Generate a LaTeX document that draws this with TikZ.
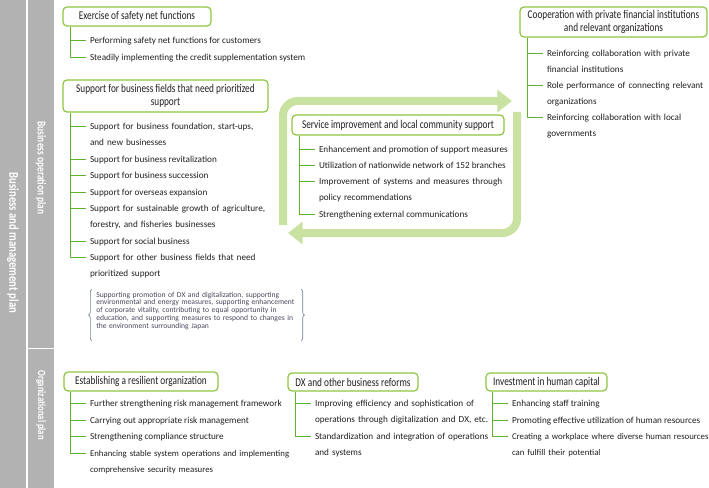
\documentclass[tikz,border=0pt]{standalone}
\usepackage{fontspec}
\setmainfont{Carlito}
\newfontfamily\hdfont[FakeStretch=0.78]{Carlito}
\newfontfamily\sdfont[FakeStretch=0.8]{Carlito}
\usetikzlibrary{arrows.meta,calc,decorations.pathreplacing}
\definecolor{sidegray}{RGB}{178,178,178}
\definecolor{boxgreen}{RGB}{141,198,63}
\definecolor{linegreen}{RGB}{96,176,48}
\definecolor{loopgreen}{RGB}{201,226,161}
\definecolor{txt}{RGB}{35,31,32}
\definecolor{notetxt}{RGB}{70,72,90}
\definecolor{bracegray}{RGB}{120,130,150}
\newcommand{\jl}[2][\linewidth]{\makebox[#1][s]{#2}}
\tikzset{
  >=Stealth,
  hd/.style={rectangle, draw=boxgreen, line width=0.9pt, rounded corners=3pt, fill=white, align=center, text=txt, inner sep=0pt, font=\hdfont\fontsize{8.9pt}{9.8pt}\selectfont},
  itm/.style={anchor=mid west, inner xsep=2.8pt, inner ysep=0pt, text=txt, align=left, font=\fontsize{6.9pt}{12.3pt}\selectfont},
  sml/.style={font=\fontsize{6.6pt}{12.3pt}\selectfont},
  br/.style={draw=linegreen, line width=0.7pt},
  cyc/.style={draw=loopgreen, line width=6pt, rounded corners=11pt, -{Triangle[width=16.5pt,length=11pt]}},
  side/.style={fill=sidegray},
  sidelbl/.style={rotate=-90, text=white, font=\sdfont\bfseries\fontsize{10pt}{11pt}\selectfont}
}
\begin{document}
\begin{tikzpicture}[x=0.75pt,y=-0.75pt]
\useasboundingbox (0,0) rectangle (709,488);

% Side bars
\fill[side] (0,0) rectangle (26,488);
\fill[side] (27.5,0) rectangle (54,347.5);
\fill[side] (27.5,349) rectangle (54,488);
\node[sidelbl] (mgmt) at (13,243) {Business and management plan};
\node[sidelbl, font=\hdfont\bfseries\fontsize{9pt}{10pt}\selectfont] (oper) at (41,168) {Business operation plan};
\node[sidelbl, font=\hdfont\bfseries\fontsize{8.3pt}{10pt}\selectfont] (orgn) at (41,405) {Organizational plan};

% Loop arrows
\draw[cyc] (283,225) |- (512,101);
\draw[cyc] (517,112) |- (288,233);

% Exercise of safety net functions
\node[hd, minimum width=111pt, minimum height=14.25pt] (ex) at (137,16.5) {Exercise of safety net functions};
\node[itm] (ex1) at (86,40) {Performing safety net functions for customers};
\node[itm] (ex2) at (86,57) {Steadily implementing the credit supplementation system};
\coordinate (exT) at ($(ex.south west)+(8,0)$);
\draw[br] (exT) -- (exT |- ex2.mid west);
\foreach \n in {ex1,ex2} \draw[br] (exT |- \n.mid west) -- (\n.mid west);

% Cooperation with private financial institutions
\node[hd, minimum width=140.25pt, minimum height=22.5pt] (co) at (613.5,22) {Cooperation with private financial institutions\\and relevant organizations};
\node[itm, text width=120pt] (co1) at (543,53) {\jl{Reinforcing collaboration with private}\\financial institutions};
\node[itm, text width=120pt] (co2) at (543,85) {\jl{Role performance of connecting relevant}\\organizations};
\node[itm, text width=120pt] (co3) at (543,117) {\jl{Reinforcing collaboration with local}\\governments};
\coordinate (coT) at ($(co.south west)+(8,0)$);
\draw[br] (coT) -- (coT |- co3.mid west);
\foreach \n in {co1,co2,co3} \draw[br] (coT |- \n.mid west) -- (\n.mid west);

% Support for business fields
\node[hd, minimum width=153.75pt, minimum height=24pt] (sp) at (165.5,96) {Support for business fields that need prioritized\\support};
\node[itm, text width=138pt] (sp1) at (86,126) {\jl{Support for business foundation, start-ups,}\\and new businesses};
\node[itm] (sp2) at (86,159) {Support for business revitalization};
\node[itm] (sp3) at (86,175) {Support for business succession};
\node[itm] (sp4) at (86,192) {Support for overseas expansion};
\node[itm, text width=138pt] (sp5) at (86,208) {\jl{Support for sustainable growth of agriculture,}\\forestry, and fisheries businesses};
\node[itm] (sp6) at (86,241) {Support for social business};
\node[itm, text width=138pt] (sp7) at (86,257) {\jl{Support for other business fields that need}\\prioritized support};
\coordinate (spT) at ($(sp.south west)+(8,0)$);
\draw[br] (spT) -- (spT |- sp7.mid west);
\foreach \n in {sp1,sp2,sp3,sp4,sp5,sp6,sp7} \draw[br] (spT |- \n.mid west) -- (\n.mid west);

% Note in brackets
\node[anchor=mid west, inner sep=0pt, text width=152pt, align=left, text=notetxt, font=\fontsize{5.7pt}{5.8pt}\selectfont] (nt) at (96,294) {\jl{Supporting promotion of DX and digitalization, supporting}\\\jl{environmental and energy measures, supporting enhancement}\\\jl{of corporate vitality, contributing to equal opportunity in}\\\jl{education, and supporting measures to respond to changes in}\\the environment surrounding Japan};
\draw[bracegray, line width=0.5pt, decorate, decoration={brace, amplitude=2.5pt}] (92,341) -- (92,289);
\draw[bracegray, line width=0.5pt, decorate, decoration={brace, amplitude=2.5pt}] (301,289) -- (301,341);

% Service improvement
\node[hd, minimum width=159pt, minimum height=15pt] (sv) at (398,125) {Service improvement and local community support};
\node[itm] (sv1) at (315,149) {Enhancement and promotion of support measures};
\node[itm] (sv2) at (315,165) {Utilization of nationwide network of 152 branches};
\node[itm, text width=141pt] (sv3) at (315,181) {\jl{Improvement of systems and measures through}\\policy recommendations};
\node[itm] (sv4) at (315,214) {Strengthening external communications};
\coordinate (svT) at ($(sv.south west)+(8,0)$);
\draw[br] (svT) -- (svT |- sv4.mid west);
\foreach \n in {sv1,sv2,sv3,sv4} \draw[br] (svT |- \n.mid west) -- (\n.mid west);

% Establishing a resilient organization
\node[hd, minimum width=115.5pt, minimum height=14.25pt] (rs) at (141,381.5) {Establishing a resilient organization};
\node[itm] (rs1) at (86,403) {Further strengthening risk management framework};
\node[itm] (rs2) at (86,420) {Carrying out appropriate risk management};
\node[itm] (rs3) at (86,436) {Strengthening compliance structure};
\node[itm, sml, text width=160pt] (rs4) at (86,453) {Enhancing stable system operations and implementing\\comprehensive security measures};
\coordinate (rsT) at ($(rs.south west)+(7,0)$);
\draw[br] (rsT) -- (rsT |- rs4.mid west);
\foreach \n in {rs1,rs2,rs3,rs4} \draw[br] (rsT |- \n.mid west) -- (\n.mid west);

% DX and other business reforms
\node[hd, minimum width=97.5pt, minimum height=13.5pt] (dx) at (353,382) {DX and other business reforms};
\node[itm, text width=150pt] (dx1) at (311,403) {\jl[129pt]{Improving efficiency and sophistication of}\\operations through digitalization and DX, etc.};
\node[itm, text width=150pt] (dx2) at (311,436) {\jl[129pt]{Standardization and integration of operations}\\and systems};
\coordinate (dxT) at ($(dx.south west)+(8,0)$);
\draw[br] (dxT) -- (dxT |- dx2.mid west);
\foreach \n in {dx1,dx2} \draw[br] (dxT |- \n.mid west) -- (\n.mid west);

% Investment in human capital
\node[hd, minimum width=90.75pt, minimum height=13.5pt] (hc) at (546.5,382) {Investment in human capital};
\node[itm] (hc1) at (508,403) {Enhancing staff training};
\node[itm] (hc2) at (508,420) {Promoting effective utilization of human resources};
\node[itm, sml, text width=160pt] (hc3) at (508,436) {Creating a workplace where diverse human resources\\can fulfill their potential};
\coordinate (hcT) at ($(hc.south west)+(7,0)$);
\draw[br] (hcT) -- (hcT |- hc3.mid west);
\foreach \n in {hc1,hc2,hc3} \draw[br] (hcT |- \n.mid west) -- (\n.mid west);

\end{tikzpicture}
\end{document}
